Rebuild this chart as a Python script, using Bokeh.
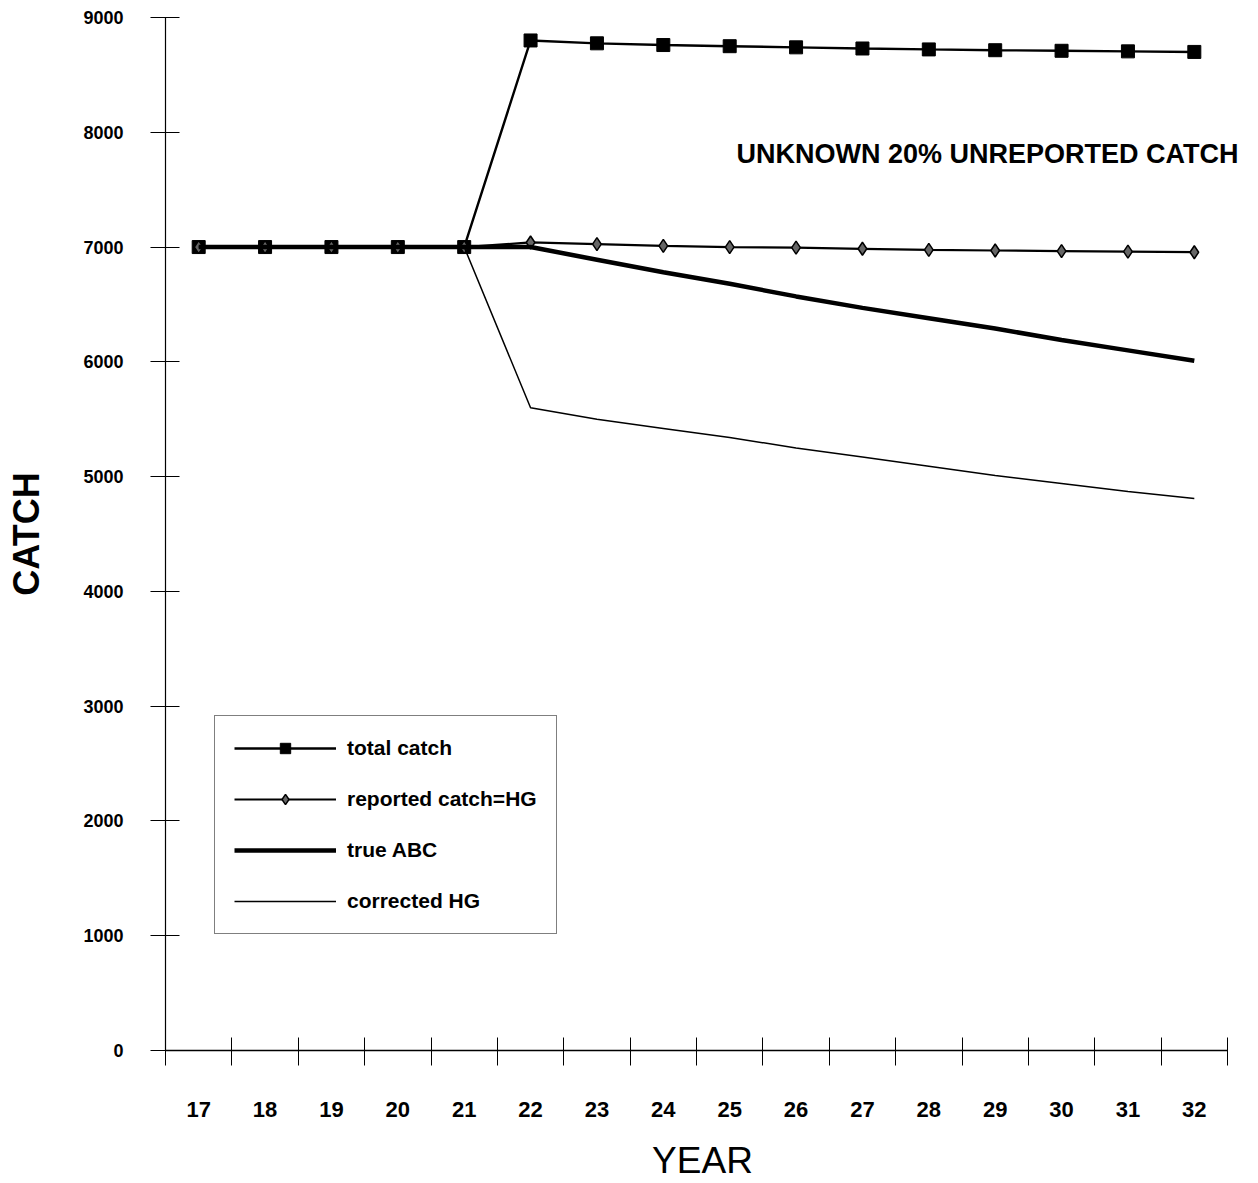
from bokeh.plotting import figure
from bokeh.models import Range1d, FixedTicker, Legend, LegendItem, Label
from bokeh.embed import file_html
from bokeh.resources import INLINE

years = [17, 18, 19, 20, 21, 22, 23, 24, 25, 26, 27, 28, 29, 30, 31, 32]
total_catch = [7000, 7000, 7000, 7000, 7000, 8800, 8775, 8760, 8750, 8740, 8730, 8722, 8715, 8710, 8705, 8700]
reported_catch_hg = [7000, 7000, 7000, 7000, 7000, 7040, 7025, 7010, 7000, 6995, 6985, 6975, 6970, 6965, 6960, 6955]
true_abc = [7000, 7000, 7000, 7000, 7000, 7000, 6890, 6780, 6680, 6570, 6470, 6380, 6290, 6190, 6100, 6010]
corrected_hg = [7000, 7000, 7000, 7000, 7000, 5600, 5500, 5420, 5340, 5250, 5170, 5090, 5010, 4940, 4870, 4810]
y_ticks = [0, 1000, 2000, 3000, 4000, 5000, 6000, 7000, 8000, 9000]

FONT = "Liberation Sans"

x_lo = years[0] - 0.5
x_hi = years[-1] + 0.5
# frame extends a few px past the last category so the annotation text is not clipped
x_pad = 12 / (1062 / (x_hi - x_lo))

p = figure(width=1239, height=1183, output_backend="svg", toolbar_location=None,
           x_range=Range1d(x_lo, x_hi + x_pad),
           y_range=Range1d(y_ticks[0], y_ticks[-1]),
           min_border_left=165, min_border_right=0, min_border_top=17, min_border_bottom=132)
p.outline_line_color = None
p.xgrid.grid_line_color = None
p.ygrid.grid_line_color = None
p.background_fill_color = "white"

# x axis: labels at category centers, tick marks at category boundaries
p.xaxis.bounds = (x_lo, x_hi)
p.xaxis.ticker = FixedTicker(ticks=years, minor_ticks=[y - 0.5 for y in years] + [x_hi])
p.xaxis.major_tick_in = 0
p.xaxis.major_tick_out = 0
p.xaxis.minor_tick_in = 13
p.xaxis.minor_tick_out = 15
p.xaxis.minor_tick_line_color = "black"
p.xaxis.minor_tick_line_width = 1
p.xaxis.axis_line_color = "black"
p.xaxis.axis_line_width = 1.5
p.xaxis.major_label_standoff = 36
p.xaxis.major_label_text_font = FONT
p.xaxis.major_label_text_font_style = "bold"
p.xaxis.major_label_text_font_size = "22px"
p.xaxis.major_label_text_color = "black"
p.xaxis.axis_label = "YEAR"
p.xaxis.axis_label_text_font = FONT
p.xaxis.axis_label_text_font_style = "normal"
p.xaxis.axis_label_text_font_size = "37px"
p.xaxis.axis_label_text_color = "black"
p.xaxis.axis_label_standoff = 20

# y axis
p.yaxis.ticker = FixedTicker(ticks=y_ticks, minor_ticks=[])
p.yaxis.major_tick_in = 14
p.yaxis.major_tick_out = 15
p.yaxis.major_tick_line_color = "black"
p.yaxis.axis_line_color = "black"
p.yaxis.axis_line_width = 1.2
p.yaxis.major_label_standoff = 27
p.yaxis.major_label_text_font = FONT
p.yaxis.major_label_text_font_style = "bold"
p.yaxis.major_label_text_font_size = "18px"
p.yaxis.major_label_text_color = "black"
p.yaxis.axis_label = "CATCH"
p.yaxis.axis_label_text_font = FONT
p.yaxis.axis_label_text_font_style = "bold"
p.yaxis.axis_label_text_font_size = "36px"
p.yaxis.axis_label_text_color = "black"
p.yaxis.axis_label_standoff = 33

# series
r_tc_line = p.line(years, total_catch, line_color="black", line_width=2.4)
r_tc_mark = p.scatter(years, total_catch, marker="square", size=13, fill_color="black", line_color="black")
r_rep_line = p.line(years, reported_catch_hg, line_color="black", line_width=2.2)
r_rep_mark = p.scatter(years, reported_catch_hg, marker="diamond", size=13, fill_color="#666666",
                       line_color="black", line_width=1.5)
r_abc = p.line(years, true_abc, line_color="black", line_width=4.5)
r_cor = p.line(years, corrected_hg, line_color="black", line_width=1.5)

legend = Legend(items=[
    LegendItem(label="total catch", renderers=[r_tc_line, r_tc_mark]),
    LegendItem(label="reported catch=HG", renderers=[r_rep_line, r_rep_mark]),
    LegendItem(label="true ABC", renderers=[r_abc]),
    LegendItem(label="corrected HG", renderers=[r_cor]),
], location=(49, 116))
legend.glyph_width = 102
legend.glyph_height = 26
legend.label_standoff = 11
legend.padding = 19
legend.spacing = 25
legend.margin = 0
legend.label_text_font = FONT
legend.label_text_font_style = "bold"
legend.label_text_font_size = "21px"
legend.label_text_color = "black"
legend.border_line_color = "black"
legend.border_line_width = 1.5
legend.background_fill_color = "white"
legend.background_fill_alpha = 1
p.add_layout(legend, "center")

note = Label(x=571, y=897, x_units="screen", y_units="screen",
             text="UNKNOWN 20% UNREPORTED CATCH", text_font=FONT, text_font_style="bold",
             text_font_size="27px", text_color="black", text_baseline="middle", text_align="left")
p.add_layout(note)

open("out.html", "w").write(file_html(p, INLINE))
